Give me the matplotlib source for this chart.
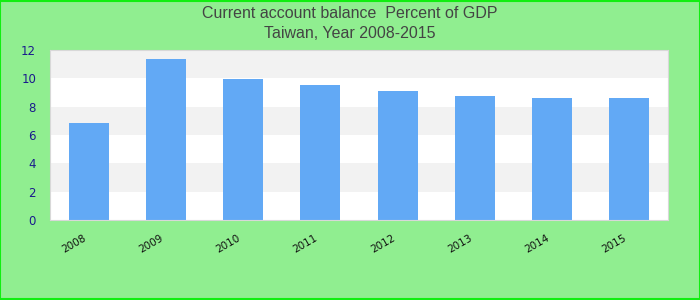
import matplotlib
matplotlib.use("Agg")
import matplotlib.pyplot as plt
from matplotlib.patches import Rectangle
import matplotlib.transforms as mtransforms

years = ["2008", "2009", "2010", "2011", "2012", "2013", "2014", "2015"]
values = [6.85, 11.36, 9.95, 9.55, 9.1, 8.75, 8.62, 8.62]
yticks = [0, 2, 4, 6, 8, 10, 12]

fig = plt.figure(figsize=(7, 3), dpi=100)
fig.patch.set_facecolor("#90EE90")
fig.patches.append(Rectangle((0.0007, 0.0017), 0.9986, 0.9966, transform=fig.transFigure,
                             fill=False, edgecolor="#11ee11", linewidth=1.5, zorder=10))

ax = fig.add_axes([50/700, 80/300, 618/700, 170/300])
ax.set_facecolor("white")
for i in range(0, 12, 2):
    if (i // 2) % 2 == 1:
        ax.axhspan(i, i + 2, color="#f2f2f2", zorder=0, lw=0)
ax.bar(range(len(years)), values, width=0.52, color="#62a9f5", zorder=2)
ax.set_xlim(-0.5, len(years) - 0.5)
ax.set_ylim(0, 12)
ax.set_yticks(yticks)
ax.set_yticklabels([str(t) for t in yticks], color="#1a1a8c", fontsize=8.5)
ax.set_xticks(range(len(years)))
ax.set_xticklabels(years, rotation=30, fontsize=7.5, color="#111111", ha="right", rotation_mode="anchor")
ax.tick_params(axis="both", length=0, pad=9)
ax.tick_params(axis="y", pad=10)
offset = mtransforms.ScaledTranslation(-6/100, 0, fig.dpi_scale_trans)
for lab in ax.get_xticklabels():
    lab.set_transform(lab.get_transform() + offset)
for s in ax.spines.values():
    s.set_color("#d8d8d8")

fig.text(0.5, 0.955, "Current account balance  Percent of GDP", ha="center", va="center",
         fontsize=11.5, color="#444444", family="Liberation Sans")
fig.text(0.5, 0.888, "Taiwan, Year 2008-2015", ha="center", va="center",
         fontsize=11.5, color="#444444", family="Liberation Sans")

fig.savefig("out.png", dpi=100, facecolor=fig.get_facecolor())
